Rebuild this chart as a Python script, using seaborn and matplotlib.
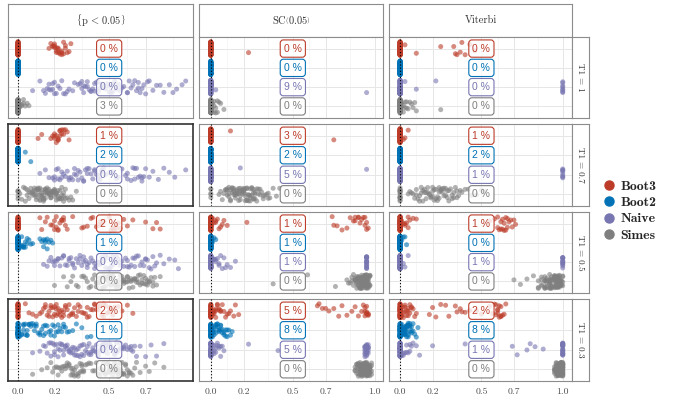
import numpy as np
import pandas as pd
import matplotlib
matplotlib.use("Agg")
import matplotlib.pyplot as plt
from matplotlib.lines import Line2D
import seaborn as sns

sns.set_style("white")
plt.rcParams["mathtext.fontset"] = "cm"
np.random.seed(7)  # only for seaborn's own strip jitter

METHODS = ["Boot3", "Boot2", "Naive", "Simes"]
COLORS = ["#BC3C29", "#0072B5", "#7876B1", "#7F7F7F"]
COL_TITLES = [r"$\left\{\mathrm{p}\,<\,0.05\right\}$", r"$\mathrm{SC}\left(0.05\right)$", "Viterbi"]
ROW_TITLES = ["T1 = 1", "T1 = 0.7", "T1 = 0.5", "T1 = 0.3"]
X_TICKS = [0.0, 0.2, 0.5, 0.7, 1.0]
X_TICK_LABELS = ["0.0", "0.2", "0.5", "0.7", "1.0"]

# percentage shown in the boxes, per row (T1 = 1, 0.7, 0.5, 0.3), methods in METHODS order
PCT_PVAL = [[0, 0, 0, 3], [1, 2, 0, 0], [2, 1, 0, 0], [2, 1, 0, 0]]
PCT_SC = [[0, 0, 9, 0], [3, 2, 5, 0], [1, 1, 1, 0], [5, 8, 5, 0]]
PCT_VT = [[0, 0, 0, 0], [1, 2, 1, 0], [1, 0, 1, 0], [2, 8, 1, 0]]

# ---- column |{p < 0.05}| : one list per row ----
PV_BOOT3 = [
    [0.0] * 75 + [0.17, 0.18, 0.19, 0.19, 0.2, 0.2, 0.2, 0.21, 0.21, 0.22, 0.22, 0.22, 0.23, 0.23,
                  0.24, 0.24, 0.24, 0.25, 0.25, 0.26, 0.26, 0.27, 0.28, 0.29, 0.21],
    [0.0] * 78 + [0.11, 0.13, 0.18, 0.19, 0.2, 0.2, 0.21, 0.21, 0.22, 0.22, 0.23, 0.23, 0.24, 0.25,
                  0.25, 0.26, 0.27, 0.28, 0.2, 0.22, 0.24, 0.23],
    [0.0] * 55 + [0.12, 0.13, 0.15, 0.16, 0.19, 0.2, 0.21, 0.22, 0.22, 0.23, 0.24, 0.25, 0.25, 0.26,
                  0.27, 0.3, 0.35, 0.36, 0.38, 0.4, 0.41, 0.43, 0.44, 0.45, 0.47, 0.5, 0.51, 0.52,
                  0.53, 0.54, 0.55, 0.56, 0.58, 0.6, 0.63, 0.7, 0.74, 0.76, 0.78, 0.18, 0.2, 0.24,
                  0.21, 0.46, 0.52],
    [0.0] * 30 + [0.04, 0.06, 0.08, 0.1, 0.12, 0.13, 0.14, 0.15, 0.15, 0.16, 0.17, 0.18, 0.18, 0.19,
                  0.2, 0.2, 0.21, 0.21, 0.22, 0.22, 0.23, 0.24, 0.24, 0.25, 0.26, 0.26, 0.27, 0.28,
                  0.29, 0.3, 0.31, 0.32, 0.33, 0.34, 0.35, 0.36, 0.37, 0.38, 0.39, 0.4, 0.41, 0.42,
                  0.43, 0.44, 0.45, 0.46, 0.47, 0.48, 0.49, 0.5, 0.51, 0.52, 0.53, 0.55, 0.57, 0.6,
                  0.63, 0.19, 0.23, 0.28, 0.33, 0.44, 0.47, 0.21, 0.25, 0.3, 0.38, 0.5, 0.42, 0.17],
]
PV_BOOT2 = [
    [0.0] * 100,
    [0.0] * 96 + [0.04, 0.07],
    [0.0] * 65 + [0.01, 0.02, 0.02, 0.03, 0.03, 0.04, 0.04, 0.05, 0.05, 0.06, 0.07, 0.08, 0.02, 0.03,
                  0.12, 0.13, 0.14, 0.15, 0.16, 0.16, 0.17, 0.18, 0.19, 0.15, 0.14],
    [0.0] * 40 + [0.01, 0.02, 0.03, 0.03, 0.04, 0.05, 0.05, 0.06, 0.07, 0.08, 0.09, 0.1, 0.11, 0.12,
                  0.13, 0.14, 0.15, 0.16, 0.17, 0.18, 0.19, 0.2, 0.21, 0.22, 0.23, 0.24, 0.25, 0.26,
                  0.27, 0.28, 0.3, 0.32, 0.35, 0.38, 0.4, 0.02, 0.04, 0.06, 0.1, 0.12, 0.14, 0.2,
                  0.25, 0.15, 0.09, 0.05, 0.03, 0.07, 0.18, 0.22],
]
PV_NAIVE = [
    [0.08, 0.12, 0.14, 0.15, 0.16, 0.17, 0.17, 0.18, 0.19, 0.2, 0.2, 0.21, 0.22, 0.23, 0.24, 0.26,
     0.27, 0.28, 0.3, 0.31, 0.33, 0.34, 0.35, 0.35, 0.36, 0.37, 0.38, 0.38, 0.39, 0.4, 0.41, 0.42,
     0.42, 0.43, 0.44, 0.45, 0.46, 0.47, 0.48, 0.49, 0.5, 0.5, 0.51, 0.52, 0.53, 0.54, 0.55, 0.56,
     0.57, 0.58, 0.6, 0.61, 0.62, 0.63, 0.64, 0.65, 0.66, 0.67, 0.68, 0.69, 0.7, 0.71, 0.72, 0.74,
     0.76, 0.78, 0.8, 0.83, 0.85, 0.87, 0.9, 0.92, 0.19, 0.25, 0.36, 0.44, 0.52, 0.6, 0.66, 0.4],
    [0.12, 0.15, 0.17, 0.19, 0.2, 0.21, 0.22, 0.23, 0.24, 0.25, 0.26, 0.27, 0.28, 0.29, 0.3, 0.31,
     0.32, 0.33, 0.34, 0.35, 0.36, 0.37, 0.38, 0.39, 0.4, 0.41, 0.42, 0.43, 0.44, 0.45, 0.46, 0.47,
     0.48, 0.5, 0.52, 0.54, 0.55, 0.57, 0.59, 0.6, 0.62, 0.63, 0.64, 0.65, 0.66, 0.67, 0.68, 0.69,
     0.7, 0.72, 0.74, 0.77, 0.8, 0.83, 0.86, 0.92, 0.2, 0.24, 0.28, 0.33, 0.38, 0.42, 0.46, 0.6,
     0.64, 0.68, 0.22, 0.31, 0.36, 0.44],
    [0.14, 0.16, 0.17, 0.18, 0.19, 0.2, 0.21, 0.22, 0.23, 0.24, 0.25, 0.26, 0.27, 0.28, 0.29, 0.3,
     0.31, 0.32, 0.33, 0.34, 0.35, 0.36, 0.37, 0.38, 0.39, 0.4, 0.41, 0.42, 0.43, 0.44, 0.45, 0.46,
     0.47, 0.48, 0.49, 0.5, 0.51, 0.52, 0.53, 0.54, 0.55, 0.56, 0.57, 0.58, 0.59, 0.6, 0.61, 0.62,
     0.63, 0.64, 0.65, 0.66, 0.67, 0.68, 0.69, 0.7, 0.71, 0.72, 0.73, 0.74, 0.75, 0.76, 0.78, 0.8,
     0.83, 0.86, 0.88, 0.2, 0.25, 0.3, 0.34, 0.38, 0.42, 0.45, 0.48, 0.52, 0.56, 0.6, 0.64, 0.22,
     0.28, 0.36, 0.44, 0.5, 0.7],
    [0.08, 0.12, 0.14, 0.15, 0.16, 0.17, 0.18, 0.19, 0.2, 0.2, 0.21, 0.22, 0.22, 0.23, 0.24, 0.25,
     0.25, 0.26, 0.27, 0.28, 0.28, 0.29, 0.3, 0.31, 0.31, 0.32, 0.33, 0.34, 0.35, 0.35, 0.36, 0.37,
     0.38, 0.39, 0.4, 0.4, 0.41, 0.42, 0.43, 0.44, 0.45, 0.45, 0.46, 0.47, 0.48, 0.49, 0.5, 0.5,
     0.51, 0.52, 0.53, 0.54, 0.55, 0.56, 0.57, 0.58, 0.59, 0.6, 0.61, 0.62, 0.63, 0.64, 0.65, 0.67,
     0.7, 0.73, 0.76, 0.8, 0.18, 0.24, 0.3, 0.34, 0.38, 0.43, 0.48, 0.52, 0.56, 0.27, 0.33, 0.41,
     0.46, 0.54, 0.2, 0.26, 0.36, 0.44, 0.58, 0.23, 0.29, 0.39, 0.49, 0.53, 0.32, 0.47, 0.62],
]
PV_SIMES = [
    [0.0] * 88 + [0.01, 0.01, 0.02, 0.02, 0.03, 0.03, 0.04, 0.05, 0.06],
    [0.0] * 5 + [0.01, 0.02, 0.03, 0.04, 0.05, 0.05, 0.06, 0.07, 0.08, 0.08, 0.09, 0.1, 0.1, 0.11,
                 0.11, 0.12, 0.12, 0.13, 0.13, 0.14, 0.14, 0.15, 0.15, 0.16, 0.16, 0.17, 0.17, 0.18,
                 0.18, 0.19, 0.19, 0.2, 0.2, 0.21, 0.21, 0.22, 0.22, 0.23, 0.23, 0.24, 0.24, 0.25,
                 0.25, 0.26, 0.27, 0.28, 0.29, 0.3, 0.32, 0.06, 0.09, 0.12, 0.15, 0.18, 0.21, 0.24,
                 0.07, 0.1, 0.13, 0.16, 0.19, 0.22, 0.11, 0.14, 0.17, 0.2, 0.23, 0.26, 0.08, 0.12,
                 0.15, 0.18, 0.04, 0.09, 0.13, 0.16, 0.19, 0.1, 0.14, 0.17, 0.21, 0.25, 0.11, 0.15,
                 0.2],
    [0.2, 0.25, 0.27, 0.29, 0.3, 0.32, 0.33, 0.35, 0.36, 0.37, 0.38, 0.39, 0.4, 0.41, 0.42, 0.43,
     0.44, 0.45, 0.45, 0.46, 0.47, 0.48, 0.48, 0.49, 0.5, 0.5, 0.51, 0.52, 0.52, 0.53, 0.54, 0.55,
     0.55, 0.56, 0.57, 0.58, 0.58, 0.59, 0.6, 0.6, 0.61, 0.62, 0.62, 0.63, 0.64, 0.65, 0.65, 0.66,
     0.67, 0.68, 0.68, 0.69, 0.7, 0.7, 0.71, 0.72, 0.73, 0.74, 0.75, 0.76, 0.78, 0.47, 0.53, 0.57,
     0.61, 0.66, 0.69, 0.72, 0.5, 0.56, 0.63, 0.67, 0.71, 0.54, 0.6, 0.64, 0.43, 0.49, 0.74, 0.58],
    [0.08, 0.13, 0.16, 0.18, 0.19, 0.2, 0.21, 0.22, 0.23, 0.24, 0.25, 0.26, 0.27, 0.28, 0.29, 0.3,
     0.3, 0.31, 0.32, 0.33, 0.34, 0.35, 0.36, 0.37, 0.38, 0.39, 0.4, 0.41, 0.42, 0.43, 0.44, 0.45,
     0.46, 0.47, 0.48, 0.49, 0.5, 0.5, 0.51, 0.52, 0.52, 0.53, 0.54, 0.55, 0.55, 0.56, 0.57, 0.58,
     0.58, 0.59, 0.6, 0.61, 0.62, 0.63, 0.64, 0.65, 0.67, 0.7, 0.72, 0.75, 0.8, 0.24, 0.28, 0.32,
     0.35, 0.45, 0.48, 0.53, 0.56, 0.6, 0.26, 0.3, 0.34, 0.5, 0.54, 0.57, 0.22, 0.27, 0.33, 0.36,
     0.47, 0.51, 0.55, 0.59, 0.31, 0.52, 0.56, 0.29, 0.49, 0.53, 0.57, 0.35, 0.5, 0.54, 0.61],
]

# ---- column SC(0.05) ----
SC_BOOT3 = [
    [0.0] * 99 + [0.23],
    [0.0] * 98 + [0.12, 0.75],
    [0.0] * 70 + [0.01, 0.02, 0.03, 0.03, 0.04, 0.05, 0.06, 0.07, 0.08, 0.1, 0.22, 0.74, 0.75, 0.77,
                  0.8, 0.83, 0.85, 0.87, 0.88, 0.9, 0.91, 0.92, 0.93, 0.94, 0.95, 0.96, 0.94, 0.88,
                  0.9, 0.95],
    [0.0] * 45 + [0.01, 0.01, 0.02, 0.02, 0.03, 0.03, 0.04, 0.04, 0.05, 0.05, 0.06, 0.07, 0.08, 0.09,
                  0.1, 0.11, 0.12, 0.14, 0.15, 0.17, 0.02, 0.03, 0.06, 0.65, 0.66, 0.68, 0.7, 0.72,
                  0.75, 0.78, 0.8, 0.83, 0.86, 0.88, 0.9, 0.92, 0.93, 0.94, 0.94, 0.95, 0.95, 0.95,
                  0.96, 0.96, 0.96, 0.95, 0.94],
]
SC_BOOT2 = [
    [0.0] * 100,
    [0.0] * 100,
    [0.0] * 96 + [0.01, 0.02, 0.03],
    [0.0] * 60 + [0.01, 0.01, 0.02, 0.02, 0.03, 0.03, 0.04, 0.04, 0.05, 0.05, 0.06, 0.06, 0.07, 0.08,
                  0.09, 0.1, 0.11, 0.12, 0.02, 0.03, 0.04, 0.05, 0.07, 0.08, 0.1, 0.13, 0.01, 0.03,
                  0.06, 0.09],
]
SC_NAIVE = [
    [0.0] * 98 + [0.03, 0.95],
    [0.0] * 98 + [0.18, 0.95],
    [0.0] * 65 + [0.01, 0.02, 0.02, 0.03, 0.04, 0.05, 0.06, 0.07, 0.08, 0.09, 0.1, 0.12, 0.15, 0.03,
                  0.05] + [0.95] * 18,
    [0.0] * 50 + [0.01, 0.02, 0.02, 0.03, 0.04, 0.05, 0.06, 0.07, 0.08, 0.03, 0.05, 0.02, 0.04, 0.06,
                  0.23, 0.41] + [0.94] * 8 + [0.95] * 12 + [0.96] * 6,
]
SC_SIMES = [
    [0.0] * 88 + [0.01, 0.02, 0.02, 0.03, 0.03, 0.04, 0.05, 0.06, 0.04, 0.08, 0.02],
    [0.0] * 5 + [0.05, 0.06, 0.07, 0.08, 0.09, 0.1, 0.1, 0.11, 0.12, 0.12, 0.13, 0.14, 0.14, 0.15,
                 0.16, 0.16, 0.17, 0.18, 0.18, 0.19, 0.2, 0.2, 0.21, 0.22, 0.22, 0.23, 0.24, 0.24,
                 0.25, 0.26, 0.26, 0.27, 0.28, 0.29, 0.3, 0.31, 0.32, 0.33, 0.34, 0.35, 0.36, 0.38,
                 0.4, 0.42, 0.1, 0.13, 0.15, 0.17, 0.19, 0.21, 0.23, 0.25, 0.27, 0.11, 0.14, 0.18,
                 0.2, 0.24, 0.28, 0.12, 0.16, 0.19, 0.22, 0.26, 0.3, 0.13, 0.17, 0.21, 0.25, 0.09,
                 0.15, 0.2, 0.23, 0.27, 0.32, 0.11, 0.18, 0.22, 0.29, 0.14, 0.21, 0.26, 0.35, 0.16,
                 0.24],
    [0.38, 0.59, 0.76, 0.83, 0.84, 0.85, 0.86, 0.86, 0.87, 0.87] + [0.88] * 4 + [0.89] * 5
    + [0.9] * 7 + [0.91] * 8 + [0.92] * 9 + [0.93] * 10 + [0.94] * 11 + [0.95] * 12 + [0.96] * 10
    + [0.97] * 5,
    [0.88] * 3 + [0.89] * 4 + [0.9] * 6 + [0.91] * 8 + [0.92] * 10 + [0.93] * 12 + [0.94] * 14
    + [0.95] * 16 + [0.96] * 14 + [0.97] * 9 + [0.98] * 4,
]

# ---- column Viterbi ----
VT_BOOT3 = [
    [0.0] * 88 + [0.03, 0.1, 0.25, 0.33, 0.34, 0.37, 0.38, 0.4, 0.43, 0.46, 0.35],
    [0.0] * 96 + [0.02, 0.03, 0.05],
    [0.0] * 65 + [0.01, 0.02, 0.03, 0.04, 0.05, 0.06, 0.08, 0.1, 0.03, 0.05, 0.55, 0.58, 0.6, 0.61,
                  0.62, 0.63, 0.64, 0.65, 0.66, 0.67, 0.68, 0.69, 0.7, 0.71, 0.63, 0.65, 0.62, 0.66,
                  0.6, 0.64],
    [0.0] * 40 + [0.01, 0.01, 0.02, 0.02, 0.03, 0.03, 0.04, 0.04, 0.05, 0.05, 0.06, 0.06, 0.07, 0.08,
                  0.09, 0.1, 0.02, 0.03, 0.05, 0.07, 0.18, 0.2, 0.22, 0.25, 0.28, 0.3, 0.34, 0.35,
                  0.37, 0.38, 0.4, 0.43, 0.47, 0.5, 0.55, 0.57, 0.58, 0.59, 0.6, 0.6, 0.61, 0.61,
                  0.62, 0.62, 0.63, 0.64, 0.65, 0.6, 0.62, 0.59],
]
VT_BOOT2 = [
    [0.0] * 100,
    [0.0] * 100,
    [0.0] * 96 + [0.01, 0.02, 0.03, 0.04],
    [0.0] * 50 + [0.01, 0.01, 0.02, 0.02, 0.02, 0.03, 0.03, 0.03, 0.04, 0.04, 0.04, 0.05, 0.05, 0.05,
                  0.06, 0.06, 0.07, 0.07, 0.08, 0.08, 0.09, 0.1, 0.11, 0.01, 0.02, 0.03, 0.04, 0.05,
                  0.06, 0.03, 0.02, 0.04, 0.01, 0.05, 0.03, 0.06, 0.02, 0.04, 0.03, 0.07],
]
VT_NAIVE = [
    [0.0] * 90 + [0.03, 0.1, 0.22] + [1.0] * 8,
    [0.0] * 92 + [1.0] * 8,
    [0.0] * 85 + [0.02, 0.03, 0.05] + [1.0] * 12,
    [0.0] * 55 + [0.01, 0.02, 0.03, 0.04, 0.05, 0.06, 0.07, 0.08, 0.1, 0.12, 0.02, 0.04, 0.06, 0.2,
                  0.4, 0.69, 0.72, 0.78, 0.8, 0.83, 0.88] + [1.0] * 22,
]
VT_SIMES = [
    [0.0] * 80 + [0.01, 0.01, 0.02, 0.02, 0.03, 0.03, 0.04, 0.04, 0.05, 0.06, 0.07, 0.08, 0.09, 0.1,
                  0.25],
    [0.0] * 15 + [0.05, 0.06, 0.07, 0.08, 0.09, 0.1, 0.11, 0.12, 0.13, 0.14, 0.15, 0.16, 0.17, 0.18,
                  0.19, 0.2, 0.21, 0.22, 0.23, 0.24, 0.25, 0.26, 0.27, 0.28, 0.29, 0.3, 0.31, 0.32,
                  0.33, 0.34, 0.35, 0.36, 0.37, 0.38, 0.4, 0.42, 0.44, 0.47, 0.5, 0.52, 0.12, 0.15,
                  0.18, 0.21, 0.24, 0.27, 0.3, 0.33, 0.14, 0.17, 0.2, 0.23, 0.26, 0.29, 0.32, 0.16,
                  0.19, 0.22, 0.25, 0.28, 0.2, 0.24, 0.13, 0.35, 0.1],
    [0.7, 0.74, 0.78, 0.82] + [0.85] * 3 + [0.87] * 4 + [0.89] * 6 + [0.9] * 6 + [0.92] * 8
    + [0.93] * 8 + [0.95] * 10 + [0.96] * 10 + [0.97] * 10 + [0.98] * 10 + [0.99] * 6 + [1.0] * 4,
    [0.95] * 6 + [0.96] * 10 + [0.97] * 14 + [0.98] * 20 + [0.99] * 25 + [1.0] * 25,
]

COLUMNS = [
    (PV_BOOT3, PV_BOOT2, PV_NAIVE, PV_SIMES, PCT_PVAL),
    (SC_BOOT3, SC_BOOT2, SC_NAIVE, SC_SIMES, PCT_SC),
    (VT_BOOT3, VT_BOOT2, VT_NAIVE, VT_SIMES, PCT_VT),
]

# ---- layout (pixels of a 675 x 401 canvas) ----
W, H = 675, 401
COL_X = [(8, 193), (199, 383), (389, 572)]
ROW_Y = [(37, 118), (124, 206), (212, 293), (299, 381)]
XLIMS = [(-0.055, 0.96), (-0.072, 1.05), (-0.068, 1.057)]
MAJOR = [0.0, 0.2, 0.5, 0.7, 1.0]
MINOR = [0.1, 0.35, 0.6, 0.85]
HIGHLIGHT = {(0, 1), (0, 3)}


def box(x0, y0, x1, y1):
    return [x0 / W, 1 - y1 / H, (x1 - x0) / W, (y1 - y0) / H]


fig = plt.figure(figsize=(W / 100, H / 100), dpi=100)

for ci, (b3, b2, nv, sm, pct) in enumerate(COLUMNS):
    # column strip
    sax = fig.add_axes(box(COL_X[ci][0], 4, COL_X[ci][1], 37))
    sax.set_xticks([])
    sax.set_yticks([])
    for s in sax.spines.values():
        s.set_color("#8C8C8C")
        s.set_linewidth(0.8)
    sax.text(0.5, 0.5, COL_TITLES[ci], ha="center", va="center", fontsize=7.5,
             family="cmr10", color="#333333", transform=sax.transAxes)

    for ri in range(4):
        ax = fig.add_axes(box(COL_X[ci][0], ROW_Y[ri][0], COL_X[ci][1], ROW_Y[ri][1]))
        vals = [b3[ri], b2[ri], nv[ri], sm[ri]]
        df = pd.DataFrame({
            "x": np.concatenate([np.asarray(v, float) for v in vals]),
            "method": np.concatenate([[m] * len(v) for m, v in zip(METHODS, vals)]),
        })
        for g in MINOR:
            ax.axvline(g, color="#F3F3F3", lw=0.5, zorder=0)
        for g in MAJOR:
            ax.axvline(g, color="#E6E6E6", lw=0.7, zorder=0)
        for k in range(4):
            ax.axhline(k, color="#E6E6E6", lw=0.7, zorder=0)

        sns.stripplot(data=df, x="x", y="method", hue="method", order=METHODS,
                      hue_order=METHODS, palette=COLORS, orient="h", jitter=0.36,
                      size=3.6, alpha=0.6, linewidth=0, legend=False, ax=ax, zorder=2)
        ax.axvline(0, color="black", ls=(0, (1, 1.8)), lw=0.8, zorder=3)

        for k, m in enumerate(METHODS):
            ax.text(0.5, k, f"{pct[ri][k]} %", ha="center", va="center", color=COLORS[k],
                    fontsize=7.5, family="Liberation Sans", zorder=5,
                    bbox=dict(boxstyle="round,pad=0.35,rounding_size=0.3",
                              fc=(1, 1, 1, 0.8), ec=COLORS[k], lw=0.8))

        ticks = [t for t in X_TICKS if XLIMS[ci][0] <= t <= XLIMS[ci][1]]
        labels = [X_TICK_LABELS[X_TICKS.index(t)] for t in ticks]
        ax.set_xticks(ticks)
        if ri == 3:
            ax.set_xticklabels(labels, family="cmr10", fontsize=7, color="#4D4D4D")
            ax.tick_params(axis="x", length=2.5, width=0.6, color="#555555", pad=2)
        else:
            ax.tick_params(axis="x", length=0, labelbottom=False)
        ax.set_yticks(range(4))
        ax.set_yticklabels([])
        if ci == 0:
            ax.tick_params(axis="y", length=2.5, width=0.6, color="#555555")
        else:
            ax.tick_params(axis="y", length=0)
        ax.set_xlim(*XLIMS[ci])
        ax.set_ylim(3.6, -0.6)
        ax.set_xlabel("")
        ax.set_ylabel("")
        edge = ("#333333", 1.2) if (ci, ri) in HIGHLIGHT else ("#8C8C8C", 0.8)
        for s in ax.spines.values():
            s.set_visible(True)
            s.set_color(edge[0])
            s.set_linewidth(edge[1])

        if ci == 2:
            rax = fig.add_axes(box(572, ROW_Y[ri][0], 589, ROW_Y[ri][1]))
            rax.set_xticks([])
            rax.set_yticks([])
            for s in rax.spines.values():
                s.set_color("#8C8C8C")
                s.set_linewidth(0.8)
            rax.text(0.5, 0.5, ROW_TITLES[ri], ha="center", va="center", rotation=-90,
                     fontsize=6.5, family="cmr10", color="#333333", transform=rax.transAxes)

handles = [Line2D([], [], marker="o", ls="", color=c, markersize=6.5, label=m)
           for m, c in zip(METHODS, COLORS)]
fig.legend(handles=handles, loc="center left", bbox_to_anchor=(590 / W, 1 - 211 / H),
           frameon=False, prop={"family": "cmb10", "size": 10}, handletextpad=0.3,
           labelspacing=0.25, handlelength=1.0)

fig.savefig("out.png", dpi=100)
